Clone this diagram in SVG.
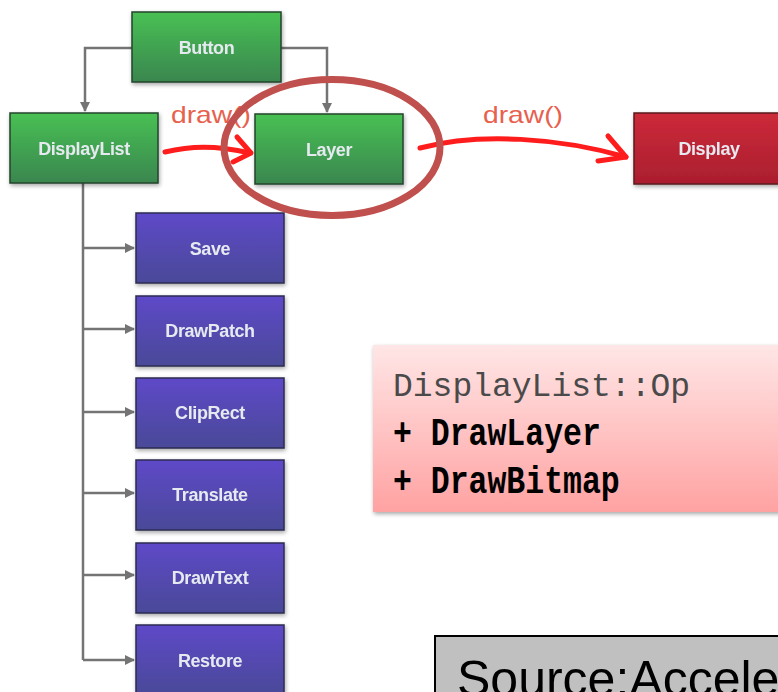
<svg xmlns="http://www.w3.org/2000/svg" width="778" height="692" viewBox="0 0 778 692">
  <defs>
    <linearGradient id="gGreen" x1="0" y1="0" x2="0" y2="1">
      <stop offset="0" stop-color="#48c052"/>
      <stop offset="1" stop-color="#3a8650"/>
    </linearGradient>
    <linearGradient id="gPurple" x1="0" y1="0" x2="0" y2="1">
      <stop offset="0" stop-color="#5e4ac8"/>
      <stop offset="1" stop-color="#4a4a98"/>
    </linearGradient>
    <linearGradient id="gRed" x1="0" y1="0" x2="0" y2="1">
      <stop offset="0" stop-color="#cc2a3a"/>
      <stop offset="1" stop-color="#aa1e2e"/>
    </linearGradient>
    <linearGradient id="gPink" x1="0" y1="0" x2="0" y2="1">
      <stop offset="0" stop-color="#ffe6e6"/>
      <stop offset="1" stop-color="#ffa2a2"/>
    </linearGradient>
    <filter id="shadow" x="-10%" y="-10%" width="130%" height="140%">
      <feGaussianBlur in="SourceAlpha" stdDeviation="2"/>
      <feOffset dx="1" dy="2" result="b"/>
      <feComponentTransfer><feFuncA type="linear" slope="0.35"/></feComponentTransfer>
      <feMerge><feMergeNode/><feMergeNode in="SourceGraphic"/></feMerge>
    </filter>
    <marker id="grayHead" viewBox="0 0 10 10" refX="9" refY="5" markerWidth="4" markerHeight="4" orient="auto" markerUnits="strokeWidth">
      <path d="M0,0 L10,5 L0,10 z" fill="#747474"/>
    </marker>
    <style>
      .box { stroke-width: 1.5; }
      .green { fill: url(#gGreen); stroke: #24442c; }
      .purple { fill: url(#gPurple); stroke: #2c2c52; }
      .red { fill: url(#gRed); stroke: #5a1a1e; }
      .lbl { font-family: "Liberation Sans", Arial, sans-serif; font-weight: bold; font-size: 18px; fill: #e6eaf0; text-anchor: middle; letter-spacing: -0.4px; }
      .tree { fill: none; stroke: #747474; stroke-width: 2.5; }
      .call { fill: none; stroke: #ff1c1c; stroke-width: 5; stroke-linecap: round; stroke-linejoin: round; }
      .callText { font-family: "Liberation Sans", Arial, sans-serif; font-size: 24px; fill: #e8604e; }
      .mono { font-family: "Liberation Mono", "DejaVu Sans Mono", monospace; }
    </style>
  </defs>

  <rect width="778" height="692" fill="#ffffff"/>

  <!-- connectors -->
  <g id="connectors">
    <polyline class="tree" points="132,48 85,48 85,111" marker-end="url(#grayHead)"/>
    <polyline class="tree" points="281,48 327,48 327,112" marker-end="url(#grayHead)"/>
    <polyline class="tree" points="83,183 83,660"/>
    <line class="tree" x1="83" y1="248" x2="134" y2="248" marker-end="url(#grayHead)"/>
    <line class="tree" x1="83" y1="329" x2="134" y2="329" marker-end="url(#grayHead)"/>
    <line class="tree" x1="83" y1="412" x2="134" y2="412" marker-end="url(#grayHead)"/>
    <line class="tree" x1="83" y1="493" x2="134" y2="493" marker-end="url(#grayHead)"/>
    <line class="tree" x1="83" y1="575" x2="134" y2="575" marker-end="url(#grayHead)"/>
    <line class="tree" x1="83" y1="660" x2="134" y2="660" marker-end="url(#grayHead)"/>

    <!-- draw() calls -->
    <path class="call" d="M165,152 C190,146 215,145 250,153"/>
    <path class="call" d="M237,137 L251,153 L233,162"/>
    <text class="callText" x="171" y="123" textLength="80" lengthAdjust="spacingAndGlyphs">draw()</text>

    <path class="call" d="M420,148 C480,132 560,138 626,157"/>
    <path class="call" d="M608,136 L626,157 L598,161"/>
    <text class="callText" x="483" y="123" textLength="80" lengthAdjust="spacingAndGlyphs">draw()</text>
  </g>

  <!-- top row -->
  <g id="button" filter="url(#shadow)">
    <rect class="box green" x="132" y="12" width="149" height="70"/>
    <text class="lbl" x="206.5" y="54">Button</text>
  </g>
  <g id="displaylist" filter="url(#shadow)">
    <rect class="box green" x="10" y="113" width="148" height="70"/>
    <text class="lbl" x="84" y="155">DisplayList</text>
  </g>
  <g id="layer" filter="url(#shadow)">
    <rect class="box green" x="255" y="114" width="148" height="70"/>
    <text class="lbl" x="329" y="156">Layer</text>
  </g>
  <g id="display" filter="url(#shadow)">
    <rect class="box red" x="634" y="113" width="160" height="71"/>
    <text class="lbl" x="709" y="155">Display</text>
  </g>

  <!-- highlight around Layer -->
  <g id="layer-highlight">
    <ellipse cx="332" cy="147.5" rx="108" ry="68" fill="none" stroke="#c0504d" stroke-width="7"/>
  </g>

  <!-- DisplayList operations -->
  <g id="op-save" filter="url(#shadow)">
    <rect class="box purple" x="136" y="213" width="148" height="70"/>
    <text class="lbl" x="210" y="255">Save</text>
  </g>
  <g id="op-drawpatch" filter="url(#shadow)">
    <rect class="box purple" x="136" y="296" width="148" height="70"/>
    <text class="lbl" x="210" y="337">DrawPatch</text>
  </g>
  <g id="op-cliprect" filter="url(#shadow)">
    <rect class="box purple" x="136" y="378" width="148" height="70"/>
    <text class="lbl" x="210" y="419">ClipRect</text>
  </g>
  <g id="op-translate" filter="url(#shadow)">
    <rect class="box purple" x="136" y="460" width="148" height="70"/>
    <text class="lbl" x="210" y="501">Translate</text>
  </g>
  <g id="op-drawtext" filter="url(#shadow)">
    <rect class="box purple" x="136" y="543" width="148" height="70"/>
    <text class="lbl" x="210" y="584">DrawText</text>
  </g>
  <g id="op-restore" filter="url(#shadow)">
    <rect class="box purple" x="136" y="625" width="148" height="70"/>
    <text class="lbl" x="210" y="667">Restore</text>
  </g>

  <!-- op note -->
  <g id="op-note">
    <rect x="373" y="345" width="420" height="167" fill="url(#gPink)" filter="url(#shadow)"/>
    <text class="mono" x="393" y="396" font-size="33" fill="#4a4a4a">DisplayList::Op</text>
    <text class="mono" transform="translate(393,445) scale(1,1.25)" font-size="31.5" font-weight="bold" fill="#000">+ DrawLayer</text>
    <text class="mono" transform="translate(393,493) scale(1,1.25)" font-size="31.5" font-weight="bold" fill="#000">+ DrawBitmap</text>
  </g>

  <!-- source caption -->
  <g id="source">
    <rect x="435" y="636" width="360" height="70" fill="#c0c0c0" stroke="#000" stroke-width="2"/>
    <text x="457" y="696" font-family="Liberation Sans, Arial, sans-serif" font-size="50" fill="#000">Source:Accele</text>
  </g>
</svg>
